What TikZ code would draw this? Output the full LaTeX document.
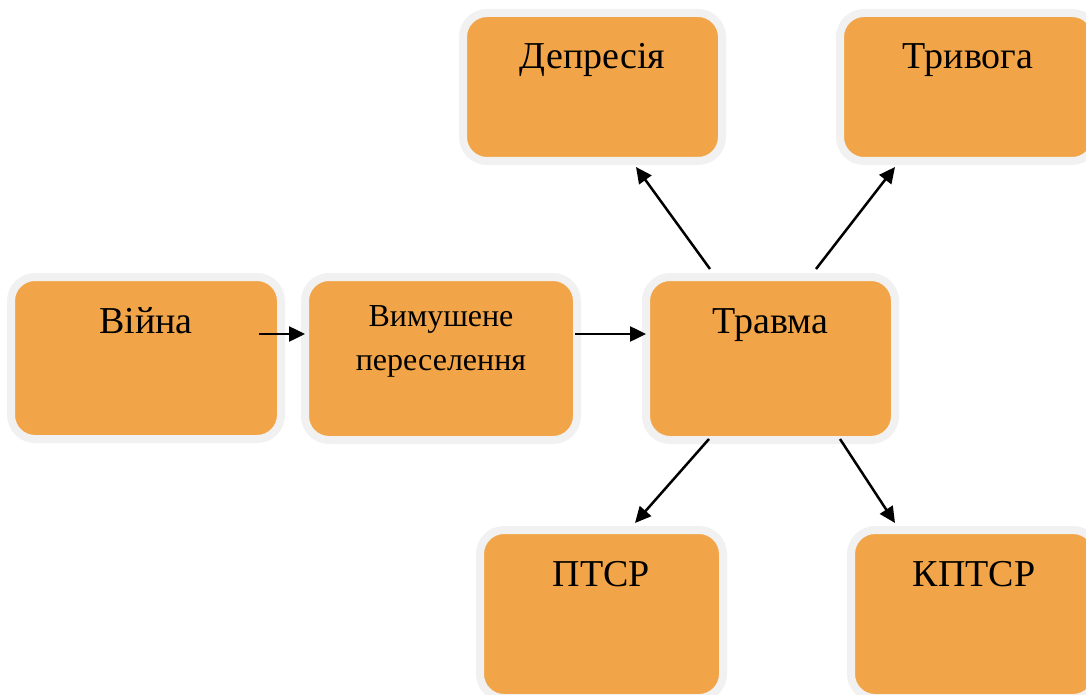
\documentclass[tikz,border=0pt]{standalone}
\usepackage{fontspec}
\setmainfont{Liberation Serif}
\usepackage{tikz}
\usetikzlibrary{arrows.meta, positioning}

\definecolor{boxfill}{RGB}{242,165,72}
\definecolor{boxedge}{RGB}{241,241,241}

\begin{document}
\begin{tikzpicture}[x=1pt, y=-1pt]

\tikzset{
  % orange box with a pale rim
  box/.style={rectangle, rounded corners=24pt, fill=boxfill, draw=boxedge, line width=8pt},
  % text near the top of a box
  boxtext/.style={anchor=base, inner sep=0pt, font=\fontsize{38}{46}\selectfont},
  smalltext/.style={anchor=base, inner sep=0pt, align=center, font=\fontsize{32}{44}\selectfont},
  % black arrow between boxes
  link/.style={-{Triangle[length=16pt, width=15pt]}, line width=2.5pt},
}

\useasboundingbox (0,0) rectangle (1086,695);

% boxes
\node (vijna) [box, minimum width=270pt, minimum height=162pt] at (146,358) {};
\node (vymush) [box, minimum width=272pt, minimum height=163pt] at (441,358.5) {};
\node (travma) [box, minimum width=249pt, minimum height=163pt] at (770.5,358.5) {};
\node (depres) [box, minimum width=259pt, minimum height=148pt] at (592.5,87) {};
\node (tryvoha) [box, minimum width=256pt, minimum height=148pt] at (968,87) {};
\node (ptsr) [box, minimum width=243pt, minimum height=168pt] at (601.5,614) {};
\node (kptsr) [box, minimum width=246pt, minimum height=168pt] at (974,614) {};

% texts (base = last line)
\node (vijnatxt) [boxtext] at ([shift={(0,60)}]vijna.north) {Війна};
\node (vymushtxt) [smalltext] at ([shift={(0,97)}]vymush.north) {Вимушене\\переселення};
\node (travmatxt) [boxtext] at ([shift={(0,60)}]travma.north) {Травма};
\node (deprestxt) [boxtext] at ([shift={(0,60)}]depres.north) {Депресія};
\node (tryvohatxt) [boxtext] at ([shift={(0,60)}]tryvoha.north) {Тривога};
\node (ptsrtxt) [boxtext] at ([shift={(0,60)}]ptsr.north) {ПТСР};
\node (kptsrtxt) [boxtext] at ([shift={(0,60)}]kptsr.north) {КПТСР};

% arrows
\draw [link] ([shift={(-26,-24)}]vijna.east) -- ([shift={(4,-24.5)}]vymush.west);
\draw [link] ([shift={(-6,-24.5)}]vymush.east) -- ([shift={(4,-24.5)}]travma.west);
\draw [link] ([shift={(-60.5,-4)}]travma.north) -- ([shift={(43.5,2)}]depres.south);
\draw [link] ([shift={(45.5,-4)}]travma.north) -- ([shift={(-73,2)}]tryvoha.south);
\draw [link] ([shift={(-61.5,-5)}]travma.south) -- ([shift={(33.5,-3)}]ptsr.north);
\draw [link] ([shift={(69.5,-5)}]travma.south) -- ([shift={(-79,-3)}]kptsr.north);

\end{tikzpicture}
\end{document}
